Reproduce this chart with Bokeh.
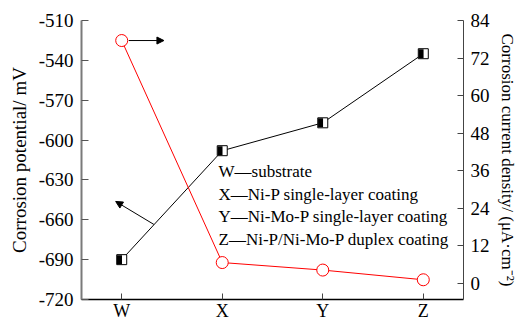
from bokeh.plotting import figure
from bokeh.models import (Range1d, LinearAxis, FixedTicker, Label, Arrow, NormalHead)
from bokeh.transform import dodge
from bokeh.embed import file_html
from bokeh.resources import INLINE

# ---- data ----
samples = ["W", "X", "Y", "Z"]
corrosion_potential = [-690, -608, -587, -535]        # mV, left axis
corrosion_current = [77.6, 6.7, 4.3, 1.2]              # uA/cm2, right axis
potential_ticks = [-720, -690, -660, -630, -600, -570, -540, -510]
current_ticks = [0, 12, 24, 36, 48, 60, 72, 84]
legend_lines = [
    "W\u2014substrate",
    "X\u2014Ni-P single-layer coating",
    "Y\u2014Ni-Mo-P single-layer coating",
    "Z\u2014Ni-P/Ni-Mo-P duplex coating",
]
left_title = "Corrosion potential/ mV"
right_title = "Corrosion current density/ (\u03bcA\u00b7cm\u207b\u00b2)"

FONT = "Liberation Serif"
xs = list(range(len(samples)))

p = figure(frame_width=382, frame_height=279, output_backend="svg", toolbar_location=None,
           x_range=Range1d(-0.4, 3.4), y_range=Range1d(-720, -510),
           min_border_left=81, min_border_right=56, min_border_top=20,
           min_border_bottom=23, y_axis_location=None)
p.outline_line_color = None
p.xgrid.visible = False
p.ygrid.visible = False
p.background_fill_color = "white"
p.border_fill_color = "white"

p.extra_y_ranges = {"cur": Range1d(-5.1, 84)}

# left axis
ly = LinearAxis(ticker=FixedTicker(ticks=potential_ticks))
ly.major_label_overrides = {t: str(t) for t in potential_ticks}
ly.axis_line_color = "#7a7a7a"
ly.axis_line_width = 2
ly.major_tick_line_color = "#555555"
ly.major_tick_in = 7
ly.major_tick_out = 0
ly.minor_tick_line_color = None
ly.major_label_text_font = FONT
ly.major_label_text_font_size = "19px"
ly.major_label_text_color = "black"
ly.major_label_standoff = 8
ly.axis_label = left_title
ly.axis_label_text_font = FONT
ly.axis_label_text_font_size = "19px"
ly.axis_label_text_font_style = "normal"
ly.axis_label_text_color = "black"
ly.axis_label_standoff = 6
p.add_layout(ly, "left")

# right axis
ry = LinearAxis(y_range_name="cur", ticker=FixedTicker(ticks=current_ticks))
ry.axis_line_color = "#444444"
ry.major_tick_line_color = "#444444"
ry.major_tick_in = 6
ry.major_tick_out = 0
ry.minor_tick_line_color = None
ry.major_label_text_font = FONT
ry.major_label_text_font_size = "19px"
ry.major_label_text_color = "black"
ry.major_label_standoff = 7
ry.axis_label = right_title
ry.axis_label_text_font = FONT
ry.axis_label_text_font_size = "17px"
ry.axis_label_text_font_style = "normal"
ry.axis_label_text_color = "black"
ry.axis_label_standoff = 5
p.add_layout(ry, "right")

# bottom axis
bx = p.xaxis[0]
bx.ticker = FixedTicker(ticks=xs)
bx.major_label_overrides = {i: s for i, s in enumerate(samples)}
bx.axis_line_color = "black"
bx.axis_line_width = 1.5
bx.major_tick_line_color = "#444444"
bx.major_tick_in = 6
bx.major_tick_out = 0
bx.minor_tick_line_color = None
bx.major_label_text_font = FONT
bx.major_label_text_font_size = "18px"
bx.major_label_text_color = "black"
bx.major_label_standoff = 1

# corrosion potential (black, half-filled squares)
p.line(xs, corrosion_potential, line_color="black", line_width=1)
src = dict(x=xs, y=corrosion_potential)
p.scatter("x", "y", source=src, marker="square", size=10,
          fill_color="white", line_color="black", line_width=1)
p.rect(x=dodge("x", -0.022, range=p.x_range), y="y", source=src,
       width=5, height=9, width_units="screen", height_units="screen",
       fill_color="black", line_color=None)

# corrosion current (red open circles)
p.line(xs, corrosion_current, line_color="red", line_width=1, y_range_name="cur")
p.scatter(xs, corrosion_current, marker="circle", size=12, fill_color="white",
          line_color="red", line_width=1, y_range_name="cur")

# arrows
p.add_layout(Arrow(end=NormalHead(size=7, fill_color="black", line_color="black"),
                   x_start=0.07, y_start=corrosion_current[0], x_end=0.42,
                   y_end=corrosion_current[0], y_range_name="cur",
                   line_color="black", line_width=1))
p.add_layout(Arrow(end=NormalHead(size=7, fill_color="black", line_color="black"),
                   x_start=0.32, y_start=-663.5, x_end=-0.06, y_end=-646.2,
                   line_color="black", line_width=1))

# legend text
for i, t in enumerate(legend_lines):
    p.add_layout(Label(x=0.963, y=-623.6 - i * 17.0, text=t, text_font=FONT,
                       text_font_size="17px", text_baseline="middle",
                       text_color="black"))

open("out.html", "w").write(file_html(p, INLINE))
